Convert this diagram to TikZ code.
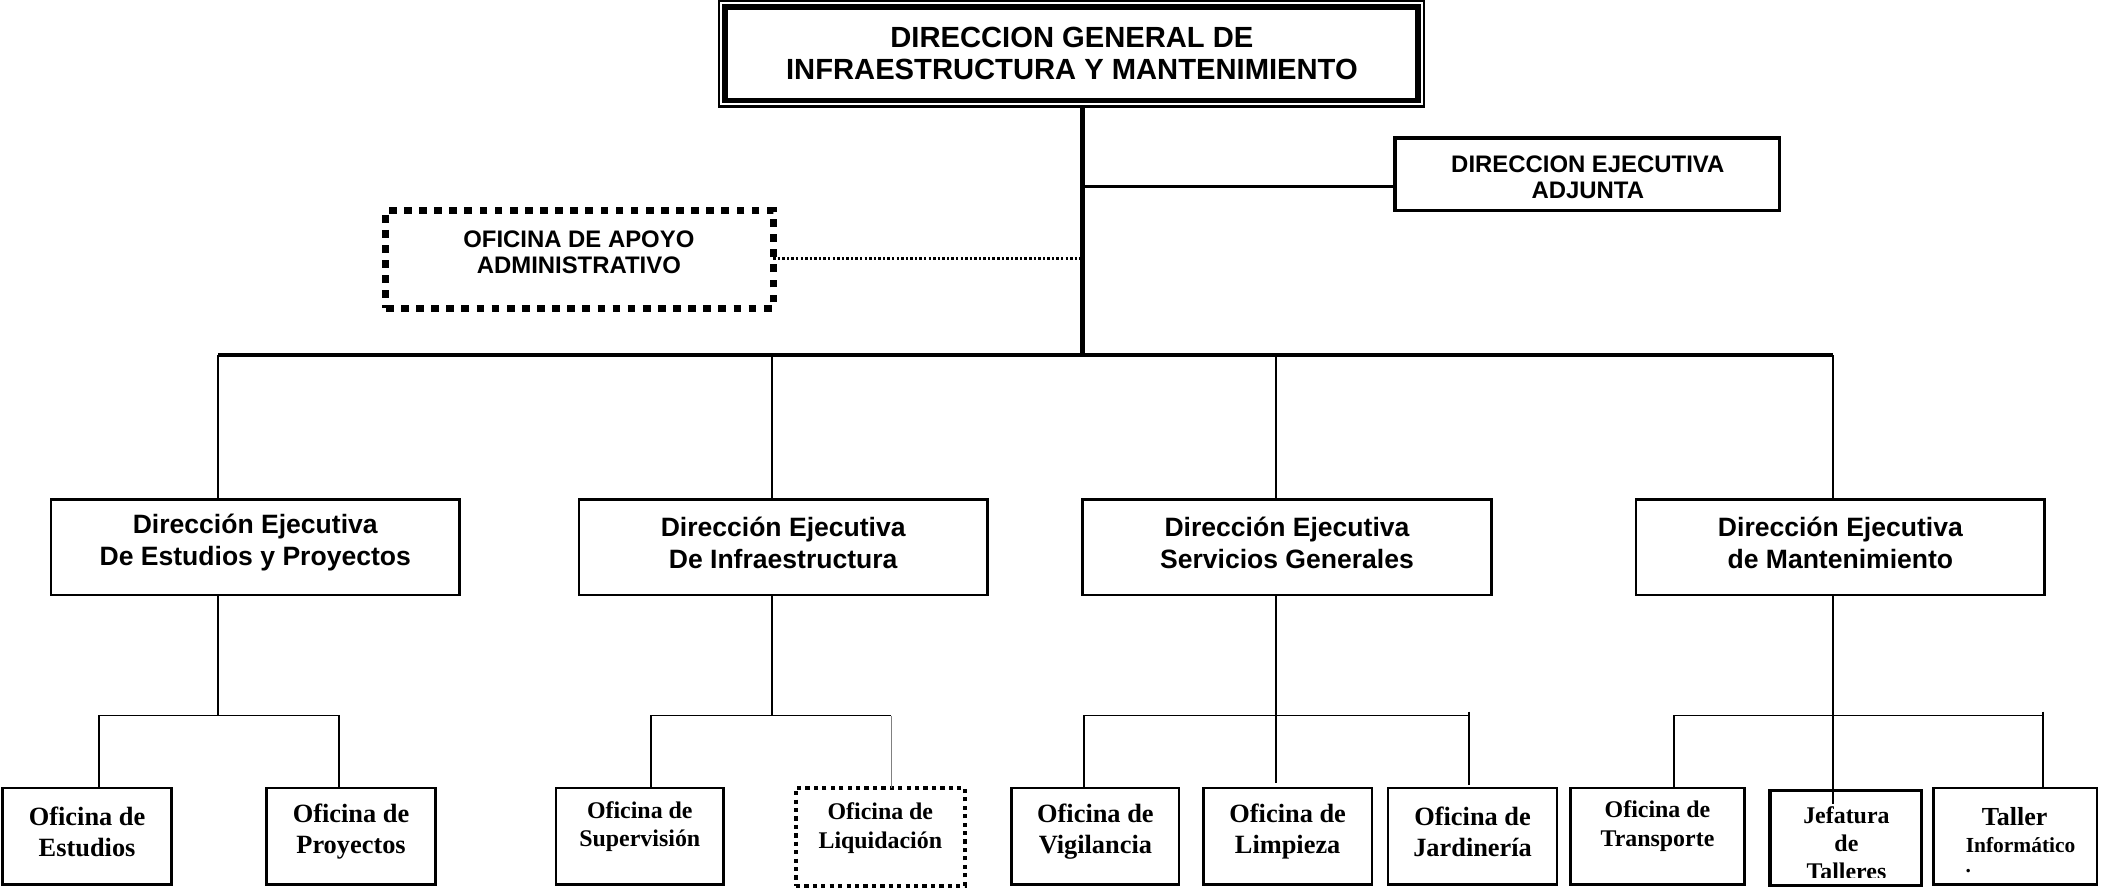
\documentclass[tikz,border=0pt]{standalone}
\usepackage{fontspec}
\setmainfont{Liberation Serif}
\newfontfamily\arial{Liberation Sans}
\usetikzlibrary{fit}
\newcommand\ftop{\arial\bfseries\fontsize{8.3}{9.1}\selectfont}
\newcommand\fsub{\arial\bfseries\fontsize{6.8}{7.4}\selectfont}
\newcommand\fdir{\arial\bfseries\fontsize{7.55}{9.1}\selectfont}
\newcommand\foff{\bfseries\fontsize{7.5}{8.8}\selectfont}
\newcommand\fsm{\bfseries\fontsize{6.8}{8}\selectfont}
\begin{document}
\begin{tikzpicture}[x=0.0134cm,y=-0.0134cm,
  box/.style={draw, line width=0.75pt, inner sep=0pt, outer sep=0pt},
  txt/.style={inner sep=0pt, align=center},
  conn/.style={line width=0.55pt},
  big/.style={line width=1.25pt},
  dotbox/.style={draw, line width=2pt, dash pattern=on 2.2pt off 2.1pt, inner sep=0pt, outer sep=0pt},
  smalldot/.style={draw, line width=1.1pt, dash pattern=on 1.2pt off 1.2pt, inner sep=0pt, outer sep=0pt},
  fineline/.style={line width=0.75pt, dash pattern=on 0.7pt off 0.6pt},
  ]
\useasboundingbox (0,0) rectangle (1568,663);

% top box
\node[fit={(541,5) (1058,75)}, draw, line width=1.7pt, inner sep=0pt, outer sep=0pt] (top) {};
\node[fit=(top), draw, line width=0.6pt, inner sep=1.7pt, outer sep=0pt] (topouter) {};
\node[txt, font=\ftop] (topT) at (800,40) {DIRECCION GENERAL DE\\INFRAESTRUCTURA Y MANTENIMIENTO};

% adjunta
\node[fit={(1041,103) (1328,157)}, draw, line width=1pt, inner sep=0pt, outer sep=0pt] (adj) {};
\node[txt, font=\fsub] (adjT) at (1185,132) {DIRECCION EJECUTIVA\\ADJUNTA};

% apoyo
\node[fit={(288,157) (577,230)}, dotbox] (apoyo) {};
\node[txt, font=\fsub] (apoyoT) at (432,188) {OFICINA DE APOYO\\ADMINISTRATIVO};

% level 2 boxes
\node[fit={(38,373) (343,444)}, box] (d1) {};
\node[fit={(432,373) (737,444)}, box] (d2) {};
\node[fit={(808,373) (1113,444)}, box] (d3) {};
\node[fit={(1221,373) (1526,444)}, box] (d4) {};
\node[txt, font=\fdir] (d1T) at (190.5,405) {Dirección Ejecutiva\\De Estudios y Proyectos};
\node[txt, font=\fdir] (d2T) at (584.5,405) {Dirección Ejecutiva\\De Infraestructura};
\node[txt, font=\fdir] (d3T) at (960.5,405) {Dirección Ejecutiva\\Servicios Generales};
\node[txt, font=\fdir] (d4T) at (1373.5,405) {Dirección Ejecutiva\\de Mantenimiento};

% level 3 boxes
\node[fit={(2,588) (128,660)}, box] (o1) {};
\node[fit={(199,588) (325,660)}, box] (o2) {};
\node[fit={(415,588) (540,660)}, box] (o3) {};
\node[fit={(594,588) (720,661)}, smalldot] (o4) {};
\node[fit={(755,588) (880,660)}, box] (o5) {};
\node[fit={(898,588) (1024,660)}, box] (o6) {};
\node[fit={(1036,588) (1162,660)}, box] (o7) {};
\node[fit={(1172,588) (1302,660)}, box] (o8) {};
\node[fit={(1321,590) (1434,661)}, box, line width=1pt] (o9) {};
\node[fit={(1443,588) (1565,660)}, box] (o10) {};

\node[txt, font=\foff] (o1T) at (65,620.5) {Oficina de\\Estudios};
\node[txt, font=\foff] (o2T) at (262,620.5) {Oficina de\\Proyectos};
\node[txt, font=\fsm] (o3T) at (477.5,617) {Oficina de\\Supervisión};
\node[txt, font=\fsm] (o4T) at (657,618) {Oficina de\\Liquidación};
\node[txt, font=\foff] (o5T) at (817.5,620.5) {Oficina de\\Vigilancia};
\node[txt, font=\foff] (o6T) at (961,620.5) {Oficina de\\Limpieza};
\node[txt, font=\foff] (o7T) at (1099,620.5) {Oficina de\\Jardinería};
\node[txt, font=\fsm] (o8T) at (1237,616.5) {Oficina de\\Transporte};
\begin{scope}
  \clip (1322,591) rectangle (1433,655);
  \node[txt, font=\fsm, anchor=north] (o9T) at (1378,601.5) {Jefatura\\de\\Talleres};
\end{scope}
\node[txt, font=\bfseries\fontsize{7.4}{8}\selectfont] (o10a) at (1503.5,609.5) {Taller};
\node[txt, font=\bfseries\fontsize{6.1}{7}\selectfont] (o10b) at (1508,630.5) {Informático};
\node[txt, font=\bfseries\fontsize{6.1}{7}\selectfont] (o10c) at (1469,650) {.};

% trunk and top connectors
\coordinate (tr) at (808,265);
\draw[big] (topouter.south -| tr) -- (tr);
\coordinate (adjJ) at (808,139);
\draw[line width=0.9pt] (adjJ) -- (adjJ -| adj.west);
\coordinate (apJ) at (808,193);
\draw[fineline] (apoyo.east |- apJ) -- (apJ);

% bus
\coordinate (busL) at (163,265);
\coordinate (busR) at (1368,265);
\draw[big] (busL) -- (busR);
\coordinate (k1) at (163,265);
\coordinate (k2) at (576,265);
\coordinate (k3) at (952,265);
\coordinate (k4) at (1368,265);
\draw[conn] (k1) -- (k1 |- d1.north);
\draw[conn] (k2) -- (k2 |- d2.north);
\draw[conn] (k3) -- (k3 |- d3.north);
\draw[conn] (k4) -- (k4 |- d4.north);

% group 1
\coordinate (m1) at (163,534);
\coordinate (h1a) at (74,534);
\coordinate (h1b) at (253,534);
\draw[conn] (m1 |- d1.south) -- (m1);
\draw[conn] (h1a |- o1.north) -- (h1a) -- (h1b) -- (h1b |- o2.north);

% group 2
\coordinate (m2) at (576,534);
\coordinate (h2a) at (486,534);
\coordinate (h2b) at (665,534);
\draw[conn] (m2 |- d2.south) -- (m2);
\draw[conn] (h2a |- o3.north) -- (h2a) -- (h2b);
\draw[gray, line width=0.3pt] (h2b) -- (h2b |- o4.north);

% group 3
\coordinate (m3e) at (952,584);
\coordinate (h3a) at (809,534);
\coordinate (h3b) at (1096,534);
\coordinate (h3c) at (1096,531);
\coordinate (h3d) at (1096,586);
\draw[conn] (m3e |- d3.south) -- (m3e);
\draw[conn] (h3a |- o5.north) -- (h3a) -- (h3b);
\draw[conn] (h3c) -- (h3d);

% group 4
\coordinate (m4e) at (1368,600);
\coordinate (h4a) at (1249,534);
\coordinate (h4b) at (1525,534);
\coordinate (h4c) at (1525,531);
\draw[conn] (m4e |- d4.south) -- (m4e);
\draw[conn] (h4a |- o8.north) -- (h4a) -- (h4b);
\draw[conn] (h4c) -- (h4c |- o10.north);
\end{tikzpicture}
\end{document}
